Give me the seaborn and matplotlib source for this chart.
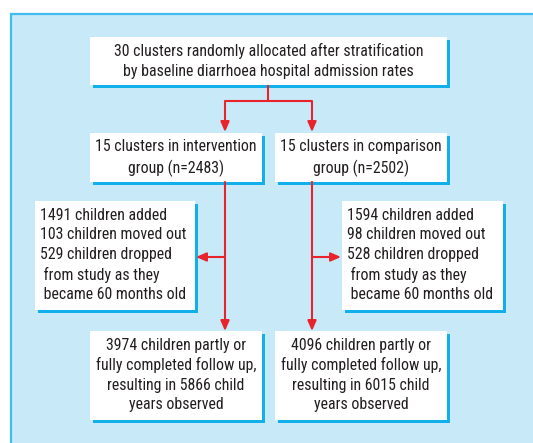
import matplotlib
matplotlib.use("Agg")
import matplotlib.pyplot as plt
import seaborn as sns
from matplotlib.patches import Rectangle, FancyArrowPatch

sns.set_style("white")

# ---- content ----
top_text = ["30 clusters randomly allocated after stratification",
            "by baseline diarrhoea hospital admission rates"]
group_labels = ["15 clusters in intervention\ngroup (n=2483)",
                "15 clusters in comparison\ngroup (n=2502)"]
added = [1491, 1594]
moved_out = [103, 98]
dropped = [529, 528]
completed = [3974, 4096]
child_years = [5866, 6015]

plt.rcParams["font.family"] = ["Roboto Condensed", "DejaVu Sans"]

W, H = 533, 443
fig = plt.figure(figsize=(W / 100, H / 100), dpi=100)
ax = fig.add_axes([0, 0, 1, 1])
ax.set_xlim(0, W)
ax.set_ylim(H, 0)
ax.axis("off")

BG = "#c7e9f8"
BORDER = "#3fbdec"
SHADOW = "#12b0ea"
RED = "#e8232b"
TXT = "#231f20"
FS = 11.4
LS = 1.37

# outer panel
ax.add_patch(Rectangle((10.5, 13.5), 540, 450, facecolor=BG, edgecolor=BORDER, lw=1.6, zorder=0))


def box(x0, y0, x1, y1):
    ax.add_patch(Rectangle((x0 + 3, y0 + 3), x1 - x0, y1 - y0, facecolor=SHADOW, edgecolor="none", zorder=1))
    ax.add_patch(Rectangle((x0, y0), x1 - x0, y1 - y0, facecolor="white", edgecolor="none", zorder=2))


def arrow(p0, p1):
    ax.add_patch(FancyArrowPatch(p0, p1, arrowstyle="-|>,head_length=6,head_width=2.6",
                                 color=RED, lw=1.5, shrinkA=0, shrinkB=0, zorder=3))


def line(xs, ys):
    ax.plot(xs, ys, color=RED, lw=1.5, zorder=3, solid_capstyle="butt")


# top box
box(90, 37, 447, 85)
ax.text(268.5, 61, "\n".join(top_text), ha="center", va="center", fontsize=FS, color=TXT,
        linespacing=LS, zorder=4)

# split arrows
line([268, 268], [85, 101])
line([225, 312], [101, 101])
arrow((225, 101), (225, 132))
arrow((312, 101), (312, 132))

# group boxes
gx = [(90, 262), (275, 447)]
for (x0, x1), lab in zip(gx, group_labels):
    box(x0, 133, x1, 182)
    ax.text((x0 + x1) / 2, 158, lab, ha="center", va="center", fontsize=FS, color=TXT,
            linespacing=LS, zorder=4)

# vertical flows
arrow((225, 182), (225, 331))
arrow((312, 182), (312, 331))

# side boxes
sx = [(35, 195), (342, 503)]
for (x0, x1), a, m, d in zip(sx, added, moved_out, dropped):
    box(x0, 201, x1, 310)
    txt = (f"{a} children added\n{m} children moved out\n{d} children dropped\n"
           f" from study as they\n became 60 months old")
    ax.text(x0 + 5, 255, txt, ha="left", va="center", fontsize=FS, color=TXT,
            linespacing=LS, zorder=4)

arrow((225, 257), (196, 257))
arrow((312, 257), (341, 257))

# bottom boxes
for (x0, x1), c, y in zip(gx, completed, child_years):
    box(x0, 331, x1, 420)
    txt = (f"{c} children partly or\nfully completed follow up,\n"
           f"resulting in {y} child\nyears observed")
    ax.text((x0 + x1) / 2, 375, txt, ha="center", va="center", fontsize=FS, color=TXT,
            linespacing=LS, zorder=4)

fig.savefig("out.png", dpi=100, facecolor="white")
